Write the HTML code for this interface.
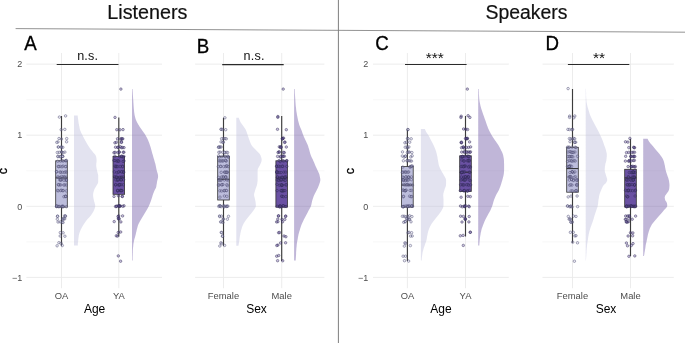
<!DOCTYPE html>
<html lang="en">
<head>
<meta charset="utf-8">
<title>Listeners and Speakers criterion c</title>
<style>
html,body{margin:0;padding:0;background:#fff;}
body{width:685px;height:343px;overflow:hidden;}
svg{display:block;font-family:"Liberation Sans",Arial,Helvetica,sans-serif;}
svg{will-change:transform;}
</style>
</head>
<body>
<svg width="685" height="343" viewBox="0 0 685 343">
<rect width="685" height="343" fill="#ffffff"/>
<line x1="15.6" y1="28.6" x2="685" y2="32.2" stroke="#7f7f7f" stroke-width="0.85"/>
<line x1="338.4" y1="0" x2="338.4" y2="343" stroke="#7f7f7f" stroke-width="1"/>
<text x="147.4" y="18.5" font-size="19.75" text-anchor="middle" fill="#111" stroke="#111" stroke-width="0.2">Listeners</text>
<text x="526.5" y="19.3" font-size="19.4" text-anchor="middle" fill="#111" stroke="#111" stroke-width="0.2">Speakers</text>
<g>
<line x1="26.4" y1="99.7" x2="162" y2="99.7" stroke="#f1f1f1" stroke-width="0.6"/>
<line x1="26.4" y1="170.8" x2="162" y2="170.8" stroke="#f1f1f1" stroke-width="0.6"/>
<line x1="26.4" y1="241.9" x2="162" y2="241.9" stroke="#f1f1f1" stroke-width="0.6"/>
<line x1="26.4" y1="64.1" x2="162" y2="64.1" stroke="#e8e8e8" stroke-width="0.85"/>
<line x1="26.4" y1="135.2" x2="162" y2="135.2" stroke="#e8e8e8" stroke-width="0.85"/>
<line x1="26.4" y1="206.3" x2="162" y2="206.3" stroke="#e8e8e8" stroke-width="0.85"/>
<line x1="26.4" y1="277.4" x2="162" y2="277.4" stroke="#e8e8e8" stroke-width="0.85"/>
<line x1="61.5" y1="53" x2="61.5" y2="288.2" stroke="#e8e8e8" stroke-width="0.85"/>
<line x1="118.8" y1="53" x2="118.8" y2="288.2" stroke="#e8e8e8" stroke-width="0.85"/>
<text x="22.3" y="67.3" font-size="9" text-anchor="end" fill="#4d4d4d">2</text>
<text x="22.3" y="138.4" font-size="9" text-anchor="end" fill="#4d4d4d">1</text>
<text x="22.3" y="209.5" font-size="9" text-anchor="end" fill="#4d4d4d">0</text>
<text x="22.3" y="280.6" font-size="9" text-anchor="end" fill="#4d4d4d">−1</text>
<text transform="translate(3.9 171) rotate(-90)" font-size="12.5" text-anchor="middle" fill="#000" stroke="#000" stroke-width="0.3" y="3.3">c</text>
<path d="M74 115.5L77.7 115.5L77.8 117L78 118.5L78.2 120L78.4 121.5L78.6 123L78.9 124.5L79.2 126L79.5 127.5L79.8 129L80.3 130.5L80.9 132L81.6 133.5L82.4 135L83.1 136.5L83.9 138L84.7 139.5L85.5 141L86.4 142.5L87.2 144L88.1 145.5L89.1 147L90.1 148.5L91.3 150L92.5 151.5L93.7 153L95.1 154.5L95.9 156L96.3 157.5L96.5 159L96.6 160.5L96.5 162L96.3 163.5L96.2 165L96.3 166.5L96.5 168L96.8 169.5L97.1 171L97.5 172.5L97.9 174L98.2 175.5L98.2 177L98.2 178.5L98.2 180L98.2 181.5L98 183L97.2 184.5L96.3 186L95.4 187.5L94.5 189L94 190.5L93.5 192L93.2 193.5L93.1 195L93.2 196.5L93.4 198L93.7 199.5L94 201L94.5 202.5L94.9 204L95.2 205.5L95.1 207L94.7 208.5L94.1 210L93.4 211.5L92.5 213L91.5 214.5L90.4 216L89.1 217.5L87.6 219L86.4 220.5L85.3 222L84.3 223.5L83.3 225L82.4 226.5L81.6 228L80.8 229.5L80.2 231L79.6 232.5L79.1 234L78.8 235.5L78.6 237L78.4 238.5L78.2 240L78.1 241.5L77.9 243L77.8 244.5L77.8 245.6L74 245.6 Z" fill="#BCBDDC" fill-opacity="0.42"/>
<line x1="61.5" y1="116" x2="61.5" y2="245.8" stroke="#3c3c3c" stroke-width="1.15"/>
<rect x="55.7" y="160.8" width="11.6" height="46.3" fill="#BCBDDC" stroke="#333" stroke-width="0.8"/>
<line x1="55.7" y1="177.9" x2="67.3" y2="177.9" stroke="#2b2b2b" stroke-width="1"/>
<g fill="#BCBDDC" fill-opacity="0.25" stroke="#45426b" stroke-width="0.45"><circle cx="65.6" cy="115.9" r="1.25"/><circle cx="59.4" cy="117.1" r="1.25"/><circle cx="64.8" cy="129.4" r="1.25"/><circle cx="61.2" cy="129.7" r="1.25"/><circle cx="59" cy="138.5" r="1.25"/><circle cx="61.5" cy="139" r="1.25"/><circle cx="66.7" cy="138.6" r="1.25"/><circle cx="66.6" cy="141.8" r="1.25"/><circle cx="58" cy="141.9" r="1.25"/><circle cx="56.8" cy="142.4" r="1.25"/><circle cx="61.1" cy="147.1" r="1.25"/><circle cx="62.8" cy="147.3" r="1.25"/><circle cx="61.5" cy="147.1" r="1.25"/><circle cx="58.3" cy="147" r="1.25"/><circle cx="58.4" cy="147" r="1.25"/><circle cx="64.9" cy="152.1" r="1.25"/><circle cx="59.1" cy="152.3" r="1.25"/><circle cx="61.6" cy="151.9" r="1.25"/><circle cx="63" cy="152.7" r="1.25"/><circle cx="57.3" cy="152.5" r="1.25"/><circle cx="61.6" cy="152.1" r="1.25"/><circle cx="62.5" cy="156.2" r="1.25"/><circle cx="60.3" cy="156.7" r="1.25"/><circle cx="57.9" cy="156.7" r="1.25"/><circle cx="60.2" cy="156.7" r="1.25"/><circle cx="62.4" cy="156.3" r="1.25"/><circle cx="62.9" cy="156.4" r="1.25"/><circle cx="57.9" cy="156.2" r="1.25"/><circle cx="60.5" cy="161.1" r="1.25"/><circle cx="66.4" cy="160.4" r="1.25"/><circle cx="63.3" cy="161" r="1.25"/><circle cx="65.4" cy="160.7" r="1.25"/><circle cx="57.7" cy="161.2" r="1.25"/><circle cx="66.1" cy="160.7" r="1.25"/><circle cx="62.2" cy="160.7" r="1.25"/><circle cx="66" cy="166.4" r="1.25"/><circle cx="58.2" cy="166.4" r="1.25"/><circle cx="63" cy="166.1" r="1.25"/><circle cx="60.2" cy="166.4" r="1.25"/><circle cx="58.8" cy="166.7" r="1.25"/><circle cx="65.4" cy="166.7" r="1.25"/><circle cx="62" cy="166.8" r="1.25"/><circle cx="56.6" cy="171.8" r="1.25"/><circle cx="56.6" cy="171.7" r="1.25"/><circle cx="66.4" cy="172.1" r="1.25"/><circle cx="60.8" cy="172.2" r="1.25"/><circle cx="65.4" cy="171.9" r="1.25"/><circle cx="62.4" cy="172.2" r="1.25"/><circle cx="60" cy="172.1" r="1.25"/><circle cx="64.3" cy="172.4" r="1.25"/><circle cx="66" cy="177.1" r="1.25"/><circle cx="64.1" cy="176.8" r="1.25"/><circle cx="57.7" cy="176.9" r="1.25"/><circle cx="64.8" cy="177.2" r="1.25"/><circle cx="62.8" cy="177" r="1.25"/><circle cx="61.6" cy="176.5" r="1.25"/><circle cx="58.7" cy="177.3" r="1.25"/><circle cx="60.1" cy="177.4" r="1.25"/><circle cx="66.2" cy="179.7" r="1.25"/><circle cx="59.8" cy="180" r="1.25"/><circle cx="66.2" cy="180.4" r="1.25"/><circle cx="66.5" cy="180" r="1.25"/><circle cx="61.7" cy="179.9" r="1.25"/><circle cx="64" cy="180.3" r="1.25"/><circle cx="60.7" cy="180" r="1.25"/><circle cx="60.6" cy="179.8" r="1.25"/><circle cx="60.8" cy="184.9" r="1.25"/><circle cx="66.2" cy="185" r="1.25"/><circle cx="64.7" cy="184.9" r="1.25"/><circle cx="63.8" cy="185" r="1.25"/><circle cx="59.8" cy="184.9" r="1.25"/><circle cx="58.4" cy="184.7" r="1.25"/><circle cx="58.5" cy="184.8" r="1.25"/><circle cx="57.5" cy="190.4" r="1.25"/><circle cx="61.3" cy="190.2" r="1.25"/><circle cx="63.2" cy="190.5" r="1.25"/><circle cx="66.3" cy="190.9" r="1.25"/><circle cx="62.8" cy="190.7" r="1.25"/><circle cx="58.2" cy="190.8" r="1.25"/><circle cx="60.6" cy="190.6" r="1.25"/><circle cx="63.9" cy="196.7" r="1.25"/><circle cx="65.8" cy="196.4" r="1.25"/><circle cx="65.4" cy="196.2" r="1.25"/><circle cx="65.8" cy="196.5" r="1.25"/><circle cx="56.5" cy="206.3" r="1.25"/><circle cx="58.9" cy="206.5" r="1.25"/><circle cx="62.2" cy="206.1" r="1.25"/><circle cx="62.4" cy="206.6" r="1.25"/><circle cx="63.3" cy="206.3" r="1.25"/><circle cx="59.5" cy="206.5" r="1.25"/><circle cx="61.9" cy="206.6" r="1.25"/><circle cx="63.1" cy="206.8" r="1.25"/><circle cx="58.3" cy="206.6" r="1.25"/><circle cx="56.7" cy="206.6" r="1.25"/><circle cx="66.3" cy="206.7" r="1.25"/><circle cx="56.8" cy="205.8" r="1.25"/><circle cx="57.5" cy="216.3" r="1.25"/><circle cx="64.6" cy="215.8" r="1.25"/><circle cx="65.3" cy="216.3" r="1.25"/><circle cx="57.6" cy="216.2" r="1.25"/><circle cx="65.5" cy="216" r="1.25"/><circle cx="62.9" cy="218.8" r="1.25"/><circle cx="57.3" cy="219.2" r="1.25"/><circle cx="62.9" cy="219.2" r="1.25"/><circle cx="64.7" cy="218.9" r="1.25"/><circle cx="63.8" cy="218.8" r="1.25"/><circle cx="58" cy="222" r="1.25"/><circle cx="63.1" cy="222.5" r="1.25"/><circle cx="62.2" cy="222.2" r="1.25"/><circle cx="60.2" cy="221.9" r="1.25"/><circle cx="63.1" cy="232.8" r="1.25"/><circle cx="60.3" cy="232.6" r="1.25"/><circle cx="64.9" cy="236.2" r="1.25"/><circle cx="60.2" cy="236" r="1.25"/><circle cx="58.9" cy="242.7" r="1.25"/><circle cx="61.1" cy="243.3" r="1.25"/><circle cx="62.3" cy="245.5" r="1.25"/><circle cx="57.1" cy="245.8" r="1.25"/></g>
<path d="M132 89L132.5 89L132.6 90.5L132.7 92L132.8 93.5L132.9 95L133 96.5L133.1 98L133.2 99.5L133.3 101L133.4 102.5L133.5 104L133.6 105.5L133.7 107L133.8 108.5L134 110L134.1 111.5L134.3 113L134.5 114.5L134.8 116L135.2 117.5L135.6 119L136.2 120.5L136.9 122L137.7 123.5L138.6 125L139.5 126.5L140.5 128L141.6 129.5L142.6 131L143.7 132.5L144.8 134L145.7 135.5L146.5 137L147.3 138.5L148 140L148.6 141.5L149.2 143L149.7 144.5L150.2 146L150.7 147.5L151.1 149L151.5 150.5L151.9 152L152.3 153.5L152.8 155L153.2 156.5L153.6 158L154.1 159.5L154.5 161L154.9 162.5L155.4 164L155.7 165.5L156 167L156.3 168.5L156.6 170L157 171.5L157.5 173L157.9 174.5L158.1 176L158 177.5L157.7 179L157.3 180.5L157 182L156.8 183.5L156.5 185L156.3 186.5L155.9 188L155 189.5L154.3 191L153.7 192.5L153.1 194L152.6 195.5L152.2 197L151.7 198.5L151.2 200L150.7 201.5L150.1 203L149.5 204.5L148.9 206L148.1 207.5L147.3 209L146.4 210.5L145.5 212L144.6 213.5L143.7 215L142.8 216.5L141.9 218L141 219.5L140.1 221L139.3 222.5L138.5 224L137.9 225.5L137.5 227L137.1 228.5L136.7 230L136.4 231.5L136 233L135.7 234.5L135.3 236L134.9 237.5L134.4 239L134.1 240.5L133.8 242L133.5 243.5L133.3 245L133.2 246.5L133 248L132.9 249.5L132.8 251L132.8 252.5L132.7 254L132.7 255.5L132.6 257L132.6 258.5L132.6 260L132.6 260.6L132 260.6 Z" fill="#6A51A3" fill-opacity="0.42"/>
<line x1="118.8" y1="117.4" x2="118.8" y2="236.5" stroke="#3c3c3c" stroke-width="1.15"/>
<rect x="113" y="156.5" width="11.6" height="37.8" fill="#6A51A3" stroke="#333" stroke-width="0.8"/>
<line x1="113" y1="177.1" x2="124.6" y2="177.1" stroke="#2b2b2b" stroke-width="1"/>
<g fill="#6A51A3" fill-opacity="0.35" stroke="#2c2950" stroke-width="0.45"><circle cx="115" cy="117.4" r="1.25"/><circle cx="123" cy="129.6" r="1.25"/><circle cx="116.8" cy="129.7" r="1.25"/><circle cx="120" cy="129.8" r="1.25"/><circle cx="122.8" cy="138.8" r="1.25"/><circle cx="121" cy="139.3" r="1.25"/><circle cx="121.2" cy="138.6" r="1.25"/><circle cx="122.2" cy="138.9" r="1.25"/><circle cx="117.5" cy="138.8" r="1.25"/><circle cx="121.5" cy="142" r="1.25"/><circle cx="116.4" cy="142.3" r="1.25"/><circle cx="121.4" cy="142.4" r="1.25"/><circle cx="114.9" cy="142.8" r="1.25"/><circle cx="120.3" cy="146.7" r="1.25"/><circle cx="124" cy="147.6" r="1.25"/><circle cx="122.4" cy="147.5" r="1.25"/><circle cx="117.7" cy="147.4" r="1.25"/><circle cx="115.5" cy="147.2" r="1.25"/><circle cx="121.5" cy="147.7" r="1.25"/><circle cx="118.2" cy="147.3" r="1.25"/><circle cx="113.9" cy="152.7" r="1.25"/><circle cx="119.2" cy="152.3" r="1.25"/><circle cx="119.3" cy="151.9" r="1.25"/><circle cx="117.6" cy="152.5" r="1.25"/><circle cx="123.2" cy="152.2" r="1.25"/><circle cx="115" cy="152.3" r="1.25"/><circle cx="123.9" cy="152.2" r="1.25"/><circle cx="122.2" cy="156.3" r="1.25"/><circle cx="114.9" cy="156.1" r="1.25"/><circle cx="123.9" cy="156.4" r="1.25"/><circle cx="119.6" cy="156.6" r="1.25"/><circle cx="121.4" cy="156.2" r="1.25"/><circle cx="123.1" cy="157.1" r="1.25"/><circle cx="121.6" cy="156.5" r="1.25"/><circle cx="113.9" cy="160.4" r="1.25"/><circle cx="116.8" cy="161.2" r="1.25"/><circle cx="118.3" cy="161.1" r="1.25"/><circle cx="124" cy="160.9" r="1.25"/><circle cx="123.1" cy="161.4" r="1.25"/><circle cx="117.7" cy="160.6" r="1.25"/><circle cx="114.9" cy="160.6" r="1.25"/><circle cx="118.8" cy="161.2" r="1.25"/><circle cx="122.5" cy="166.2" r="1.25"/><circle cx="115.5" cy="166.6" r="1.25"/><circle cx="116.4" cy="166.5" r="1.25"/><circle cx="116.5" cy="166.4" r="1.25"/><circle cx="120.1" cy="166.5" r="1.25"/><circle cx="117.7" cy="166.6" r="1.25"/><circle cx="122.7" cy="166.7" r="1.25"/><circle cx="115" cy="166" r="1.25"/><circle cx="123.4" cy="171.7" r="1.25"/><circle cx="123.7" cy="172.4" r="1.25"/><circle cx="118.9" cy="171.7" r="1.25"/><circle cx="123.1" cy="172" r="1.25"/><circle cx="116.9" cy="172.8" r="1.25"/><circle cx="114.3" cy="171.9" r="1.25"/><circle cx="118.4" cy="172.2" r="1.25"/><circle cx="121.5" cy="171.8" r="1.25"/><circle cx="121.5" cy="171.8" r="1.25"/><circle cx="120.7" cy="177.5" r="1.25"/><circle cx="116.7" cy="177.3" r="1.25"/><circle cx="121.5" cy="177" r="1.25"/><circle cx="123.2" cy="176.8" r="1.25"/><circle cx="117" cy="177.4" r="1.25"/><circle cx="115.2" cy="177.2" r="1.25"/><circle cx="114.6" cy="176.6" r="1.25"/><circle cx="119.6" cy="177.2" r="1.25"/><circle cx="116.5" cy="177" r="1.25"/><circle cx="120.3" cy="179.6" r="1.25"/><circle cx="118.1" cy="180.2" r="1.25"/><circle cx="120.8" cy="179.4" r="1.25"/><circle cx="117.1" cy="180.2" r="1.25"/><circle cx="115.8" cy="179.9" r="1.25"/><circle cx="121.6" cy="179.7" r="1.25"/><circle cx="121.2" cy="179.9" r="1.25"/><circle cx="123.6" cy="179.8" r="1.25"/><circle cx="117.9" cy="179.5" r="1.25"/><circle cx="121.2" cy="184.6" r="1.25"/><circle cx="119.5" cy="185.1" r="1.25"/><circle cx="123.3" cy="184.8" r="1.25"/><circle cx="118.3" cy="185" r="1.25"/><circle cx="119.3" cy="184.7" r="1.25"/><circle cx="119.8" cy="184.7" r="1.25"/><circle cx="115.6" cy="185" r="1.25"/><circle cx="115.7" cy="184.5" r="1.25"/><circle cx="121" cy="190.4" r="1.25"/><circle cx="122" cy="190.5" r="1.25"/><circle cx="120.1" cy="190.4" r="1.25"/><circle cx="120.7" cy="190.6" r="1.25"/><circle cx="117.8" cy="190.8" r="1.25"/><circle cx="117.7" cy="190.8" r="1.25"/><circle cx="117.6" cy="190.3" r="1.25"/><circle cx="121.5" cy="190.7" r="1.25"/><circle cx="122.2" cy="196.3" r="1.25"/><circle cx="122.4" cy="196.5" r="1.25"/><circle cx="118.3" cy="195.8" r="1.25"/><circle cx="114" cy="196.4" r="1.25"/><circle cx="119.6" cy="206" r="1.25"/><circle cx="120.5" cy="206" r="1.25"/><circle cx="119.7" cy="206.1" r="1.25"/><circle cx="115.5" cy="206.5" r="1.25"/><circle cx="116.6" cy="206.4" r="1.25"/><circle cx="124" cy="205.8" r="1.25"/><circle cx="118.3" cy="205.7" r="1.25"/><circle cx="119.6" cy="206.2" r="1.25"/><circle cx="122.8" cy="206.3" r="1.25"/><circle cx="116.4" cy="206.3" r="1.25"/><circle cx="118.7" cy="206" r="1.25"/><circle cx="122.6" cy="215.9" r="1.25"/><circle cx="118.7" cy="215.9" r="1.25"/><circle cx="118" cy="216.5" r="1.25"/><circle cx="118.5" cy="219" r="1.25"/><circle cx="118.4" cy="218.3" r="1.25"/><circle cx="119.3" cy="218.8" r="1.25"/><circle cx="120.9" cy="221.9" r="1.25"/><circle cx="114.2" cy="221.6" r="1.25"/><circle cx="118.2" cy="232.5" r="1.25"/><circle cx="120.7" cy="232" r="1.25"/><circle cx="117.5" cy="236.1" r="1.25"/><circle cx="116.3" cy="235.8" r="1.25"/><circle cx="120.9" cy="89.1" r="1.25"/><circle cx="118.3" cy="255.9" r="1.25"/><circle cx="120.6" cy="261.2" r="1.25"/></g>
<line x1="56.7" y1="64.5" x2="118.5" y2="64.5" stroke="#2a2a2a" stroke-width="1.1"/>
<text x="87.7" y="59.8" font-size="12.6" letter-spacing="0.2" text-anchor="middle" fill="#111">n.s.</text>
<text x="61.5" y="299.3" font-size="9.4" text-anchor="middle" fill="#4d4d4d">OA</text>
<text x="118.8" y="299.3" font-size="9.4" text-anchor="middle" fill="#4d4d4d">YA</text>
<text x="94.6" y="312.6" font-size="12" text-anchor="middle" fill="#000">Age</text>
<text transform="translate(24.2 49.6) scale(0.955 1)" font-size="19.6" fill="#000" stroke="#000" stroke-width="0.3">A</text>
</g>
<g>
<line x1="195.1" y1="99.7" x2="324.4" y2="99.7" stroke="#f1f1f1" stroke-width="0.6"/>
<line x1="195.1" y1="170.8" x2="324.4" y2="170.8" stroke="#f1f1f1" stroke-width="0.6"/>
<line x1="195.1" y1="241.9" x2="324.4" y2="241.9" stroke="#f1f1f1" stroke-width="0.6"/>
<line x1="195.1" y1="64.1" x2="324.4" y2="64.1" stroke="#e8e8e8" stroke-width="0.85"/>
<line x1="195.1" y1="135.2" x2="324.4" y2="135.2" stroke="#e8e8e8" stroke-width="0.85"/>
<line x1="195.1" y1="206.3" x2="324.4" y2="206.3" stroke="#e8e8e8" stroke-width="0.85"/>
<line x1="195.1" y1="277.4" x2="324.4" y2="277.4" stroke="#e8e8e8" stroke-width="0.85"/>
<line x1="223.5" y1="53" x2="223.5" y2="288.2" stroke="#e8e8e8" stroke-width="0.85"/>
<line x1="281.7" y1="53" x2="281.7" y2="288.2" stroke="#e8e8e8" stroke-width="0.85"/>
<path d="M236.3 117.7L238.8 117.7L239.3 119.2L239.9 120.7L240.6 122.2L241.6 123.7L242.7 125.2L243.8 126.7L244.8 128.2L245.8 129.7L246.4 131.2L246.9 132.7L247.4 134.2L247.9 135.7L248.4 137.2L248.9 138.7L249.5 140.2L250 141.7L250.6 143.2L251.3 144.7L252.3 146.2L253.7 147.7L255.2 149.2L256.6 150.7L258.1 152.2L259.6 153.7L260.5 155.2L261 156.7L261.5 158.2L261.7 159.7L261.5 161.2L261 162.7L260.3 164.2L259.6 165.7L258.7 167.2L257.9 168.7L257.6 170.2L257.6 171.7L257.6 173.2L257.6 174.7L257.6 176.2L257.6 177.7L257.6 179.2L257.6 180.7L257.4 182.2L257.2 183.7L256.9 185.2L256.4 186.7L255.8 188.2L255.3 189.7L254.9 191.2L254.4 192.7L254.1 194.2L254.1 195.7L254.5 197.2L254.9 198.7L255.2 200.2L255.5 201.7L255.7 203.2L255.8 204.7L255.9 206.2L255.3 207.7L254.3 209.2L253.3 210.7L252.2 212.2L251 213.7L249.7 215.2L248.5 216.7L247.3 218.2L246.1 219.7L245.1 221.2L244.1 222.7L243.3 224.2L242.6 225.7L242 227.2L241.6 228.7L241.1 230.2L240.8 231.7L240.4 233.2L240.2 234.7L239.9 236.2L239.7 237.7L239.5 239.2L239.3 240.7L239 242.2L238.8 243.7L238.5 245.2L238.4 245.8L236.3 245.8 Z" fill="#BCBDDC" fill-opacity="0.42"/>
<line x1="223.5" y1="117.8" x2="223.5" y2="246.1" stroke="#3c3c3c" stroke-width="1.15"/>
<rect x="217.7" y="156.5" width="11.6" height="43.5" fill="#BCBDDC" stroke="#333" stroke-width="0.8"/>
<line x1="217.7" y1="179.3" x2="229.3" y2="179.3" stroke="#2b2b2b" stroke-width="1"/>
<g fill="#BCBDDC" fill-opacity="0.25" stroke="#45426b" stroke-width="0.45"><circle cx="224.9" cy="117.8" r="1.25"/><circle cx="221.3" cy="129.3" r="1.25"/><circle cx="221" cy="129.3" r="1.25"/><circle cx="222.7" cy="129.5" r="1.25"/><circle cx="225.7" cy="129.7" r="1.25"/><circle cx="221.6" cy="138.7" r="1.25"/><circle cx="223.4" cy="138.5" r="1.25"/><circle cx="225.1" cy="138.6" r="1.25"/><circle cx="226.3" cy="138.8" r="1.25"/><circle cx="221" cy="141.9" r="1.25"/><circle cx="223.4" cy="142.2" r="1.25"/><circle cx="222.9" cy="142.3" r="1.25"/><circle cx="219.7" cy="147.2" r="1.25"/><circle cx="221.2" cy="147" r="1.25"/><circle cx="218.6" cy="147.1" r="1.25"/><circle cx="220" cy="146.9" r="1.25"/><circle cx="218.5" cy="147.3" r="1.25"/><circle cx="226.5" cy="152.4" r="1.25"/><circle cx="224.7" cy="152.4" r="1.25"/><circle cx="222.6" cy="152.3" r="1.25"/><circle cx="220" cy="152.1" r="1.25"/><circle cx="227.6" cy="152.5" r="1.25"/><circle cx="218.8" cy="152.3" r="1.25"/><circle cx="224.5" cy="152.4" r="1.25"/><circle cx="228.2" cy="156.6" r="1.25"/><circle cx="219.5" cy="156.8" r="1.25"/><circle cx="218.6" cy="155.8" r="1.25"/><circle cx="227.8" cy="156.1" r="1.25"/><circle cx="224.7" cy="156.3" r="1.25"/><circle cx="225.4" cy="156.4" r="1.25"/><circle cx="228.2" cy="157.1" r="1.25"/><circle cx="221.8" cy="156.5" r="1.25"/><circle cx="225.8" cy="160.6" r="1.25"/><circle cx="222.7" cy="160.9" r="1.25"/><circle cx="226.2" cy="161.1" r="1.25"/><circle cx="219.1" cy="160.8" r="1.25"/><circle cx="220.2" cy="161" r="1.25"/><circle cx="223" cy="160.9" r="1.25"/><circle cx="221.2" cy="160.9" r="1.25"/><circle cx="225.4" cy="160.3" r="1.25"/><circle cx="218.3" cy="166.6" r="1.25"/><circle cx="220.9" cy="166.4" r="1.25"/><circle cx="226.6" cy="166.2" r="1.25"/><circle cx="220.5" cy="166.4" r="1.25"/><circle cx="228.1" cy="166.6" r="1.25"/><circle cx="225.6" cy="166.5" r="1.25"/><circle cx="226.8" cy="165.7" r="1.25"/><circle cx="223.7" cy="166.6" r="1.25"/><circle cx="227.1" cy="172.5" r="1.25"/><circle cx="221.2" cy="172.3" r="1.25"/><circle cx="224.6" cy="172" r="1.25"/><circle cx="224.8" cy="172.4" r="1.25"/><circle cx="227.3" cy="172.1" r="1.25"/><circle cx="226.2" cy="172.2" r="1.25"/><circle cx="226" cy="172.2" r="1.25"/><circle cx="225.6" cy="177.1" r="1.25"/><circle cx="218.6" cy="177.4" r="1.25"/><circle cx="225.7" cy="176.7" r="1.25"/><circle cx="225.9" cy="177.3" r="1.25"/><circle cx="223.2" cy="176.7" r="1.25"/><circle cx="223" cy="177.3" r="1.25"/><circle cx="221.5" cy="177" r="1.25"/><circle cx="221.1" cy="180.3" r="1.25"/><circle cx="219" cy="179.7" r="1.25"/><circle cx="220.5" cy="179.8" r="1.25"/><circle cx="227.9" cy="180.1" r="1.25"/><circle cx="224.3" cy="180" r="1.25"/><circle cx="219.1" cy="180.3" r="1.25"/><circle cx="226.7" cy="179.9" r="1.25"/><circle cx="227.3" cy="185.6" r="1.25"/><circle cx="218.4" cy="185" r="1.25"/><circle cx="222.1" cy="184.9" r="1.25"/><circle cx="219.1" cy="185" r="1.25"/><circle cx="226.8" cy="184.7" r="1.25"/><circle cx="223" cy="184.5" r="1.25"/><circle cx="221.6" cy="184.7" r="1.25"/><circle cx="219.9" cy="190.8" r="1.25"/><circle cx="224.2" cy="190.8" r="1.25"/><circle cx="224.3" cy="190.5" r="1.25"/><circle cx="221.7" cy="191" r="1.25"/><circle cx="226.1" cy="190.4" r="1.25"/><circle cx="226.6" cy="190.6" r="1.25"/><circle cx="224.4" cy="196" r="1.25"/><circle cx="220" cy="197.1" r="1.25"/><circle cx="226.8" cy="196.3" r="1.25"/><circle cx="225.9" cy="206.2" r="1.25"/><circle cx="221.1" cy="206.7" r="1.25"/><circle cx="223.9" cy="206.5" r="1.25"/><circle cx="224.1" cy="206.9" r="1.25"/><circle cx="226.8" cy="206.5" r="1.25"/><circle cx="219.4" cy="205.7" r="1.25"/><circle cx="227.1" cy="206.2" r="1.25"/><circle cx="218.8" cy="206.5" r="1.25"/><circle cx="220.3" cy="205.8" r="1.25"/><circle cx="227.9" cy="206.1" r="1.25"/><circle cx="220.1" cy="206.1" r="1.25"/><circle cx="223.7" cy="205.6" r="1.25"/><circle cx="219.8" cy="216.6" r="1.25"/><circle cx="228.5" cy="216.3" r="1.25"/><circle cx="219.5" cy="216" r="1.25"/><circle cx="221.5" cy="216.1" r="1.25"/><circle cx="227.4" cy="219.2" r="1.25"/><circle cx="223" cy="219.2" r="1.25"/><circle cx="223.6" cy="219" r="1.25"/><circle cx="221.3" cy="221.8" r="1.25"/><circle cx="220.6" cy="221.9" r="1.25"/><circle cx="223.1" cy="222.5" r="1.25"/><circle cx="221.2" cy="232.4" r="1.25"/><circle cx="221.7" cy="232.6" r="1.25"/><circle cx="222.5" cy="236.2" r="1.25"/><circle cx="222.5" cy="236.1" r="1.25"/><circle cx="221.5" cy="243.6" r="1.25"/><circle cx="220.9" cy="242.8" r="1.25"/><circle cx="224.6" cy="245.4" r="1.25"/><circle cx="219.8" cy="246" r="1.25"/></g>
<path d="M294.1 89L294.7 89L294.8 90.5L294.8 92L294.9 93.5L295 95L295.1 96.5L295.2 98L295.3 99.5L295.4 101L295.5 102.5L295.6 104L295.7 105.5L295.9 107L296.1 108.5L296.2 110L296.4 111.5L296.7 113L296.9 114.5L297.2 116L297.5 117.5L297.8 119L298.1 120.5L298.5 122L298.9 123.5L299.3 125L299.9 126.5L300.5 128L301.2 129.5L301.8 131L302.3 132.5L302.8 134L303.4 135.5L304 137L304.7 138.5L305.4 140L306.1 141.5L306.8 143L307.5 144.5L308.1 146L308.5 147.5L309 149L309.4 150.5L309.8 152L310.2 153.5L310.7 155L311.3 156.5L312 158L312.8 159.5L313.4 161L314.1 162.5L314.7 164L315.3 165.5L316 167L316.7 168.5L317.4 170L318.1 171.5L318.8 173L319.4 174.5L319.7 176L320 177.5L320.3 179L320.3 180.5L320 182L319.5 183.5L319 185L318.4 186.5L317.8 188L317 189.5L316.3 191L315.5 192.5L314.7 194L314 195.5L313.4 197L312.9 198.5L312.4 200L312 201.5L311.7 203L311.4 204.5L311 206L310.3 207.5L309.5 209L308.6 210.5L307.9 212L307.1 213.5L306.3 215L305.5 216.5L304.7 218L303.9 219.5L303.2 221L302.5 222.5L301.8 224L301.2 225.5L300.7 227L300.2 228.5L299.8 230L299.3 231.5L298.9 233L298.5 234.5L298.2 236L297.9 237.5L297.7 239L297.4 240.5L297.1 242L296.9 243.5L296.7 245L296.6 246.5L296.4 248L296.3 249.5L296.2 251L296.1 252.5L296.1 254L296 255.5L295.9 257L295.8 258.5L295.7 260L295.7 260.6L294.1 260.6 Z" fill="#6A51A3" fill-opacity="0.42"/>
<line x1="281.7" y1="116" x2="281.7" y2="261" stroke="#3c3c3c" stroke-width="1.15"/>
<rect x="275.9" y="160.8" width="11.6" height="46.3" fill="#6A51A3" stroke="#333" stroke-width="0.8"/>
<line x1="275.9" y1="177.9" x2="287.5" y2="177.9" stroke="#2b2b2b" stroke-width="1"/>
<g fill="#6A51A3" fill-opacity="0.35" stroke="#2c2950" stroke-width="0.45"><circle cx="277.9" cy="116.5" r="1.25"/><circle cx="277.8" cy="117.3" r="1.25"/><circle cx="277.5" cy="129.3" r="1.25"/><circle cx="286.3" cy="129.7" r="1.25"/><circle cx="282.9" cy="138.3" r="1.25"/><circle cx="282.4" cy="138.7" r="1.25"/><circle cx="282.4" cy="138.9" r="1.25"/><circle cx="283.6" cy="138.1" r="1.25"/><circle cx="285" cy="142.1" r="1.25"/><circle cx="284.6" cy="142.4" r="1.25"/><circle cx="279.3" cy="146.8" r="1.25"/><circle cx="286.3" cy="147" r="1.25"/><circle cx="280.4" cy="147.4" r="1.25"/><circle cx="280.7" cy="146.7" r="1.25"/><circle cx="281.2" cy="147.3" r="1.25"/><circle cx="278" cy="152.5" r="1.25"/><circle cx="284.3" cy="152.6" r="1.25"/><circle cx="283.5" cy="152.4" r="1.25"/><circle cx="278.9" cy="151.8" r="1.25"/><circle cx="279.4" cy="152.2" r="1.25"/><circle cx="280.4" cy="157" r="1.25"/><circle cx="283.1" cy="156.2" r="1.25"/><circle cx="277.6" cy="156.4" r="1.25"/><circle cx="284.4" cy="156.3" r="1.25"/><circle cx="283.1" cy="156.3" r="1.25"/><circle cx="280.7" cy="156.3" r="1.25"/><circle cx="280.1" cy="161.6" r="1.25"/><circle cx="282.6" cy="160.7" r="1.25"/><circle cx="283.8" cy="161" r="1.25"/><circle cx="286.6" cy="160.7" r="1.25"/><circle cx="279.1" cy="160.5" r="1.25"/><circle cx="286.8" cy="160.7" r="1.25"/><circle cx="286.8" cy="166.4" r="1.25"/><circle cx="276.9" cy="166.4" r="1.25"/><circle cx="282.8" cy="166.3" r="1.25"/><circle cx="280" cy="166.7" r="1.25"/><circle cx="276.5" cy="166.2" r="1.25"/><circle cx="282.2" cy="166.3" r="1.25"/><circle cx="278.6" cy="166.2" r="1.25"/><circle cx="276.8" cy="172.5" r="1.25"/><circle cx="281" cy="172.5" r="1.25"/><circle cx="283.9" cy="172.1" r="1.25"/><circle cx="279" cy="172.4" r="1.25"/><circle cx="285.8" cy="172.1" r="1.25"/><circle cx="277.5" cy="172.5" r="1.25"/><circle cx="276.8" cy="171.6" r="1.25"/><circle cx="276.8" cy="172.2" r="1.25"/><circle cx="277.5" cy="177.2" r="1.25"/><circle cx="285.9" cy="176.8" r="1.25"/><circle cx="280" cy="177.8" r="1.25"/><circle cx="284.8" cy="177.2" r="1.25"/><circle cx="282.2" cy="177.7" r="1.25"/><circle cx="277.5" cy="177.1" r="1.25"/><circle cx="282.6" cy="177.4" r="1.25"/><circle cx="285" cy="177.2" r="1.25"/><circle cx="281.9" cy="177.2" r="1.25"/><circle cx="277.2" cy="180" r="1.25"/><circle cx="283.7" cy="179.7" r="1.25"/><circle cx="284.7" cy="180.2" r="1.25"/><circle cx="278.3" cy="180" r="1.25"/><circle cx="285.4" cy="180.3" r="1.25"/><circle cx="279" cy="180.6" r="1.25"/><circle cx="280.7" cy="180.2" r="1.25"/><circle cx="281.8" cy="180" r="1.25"/><circle cx="281.1" cy="179.6" r="1.25"/><circle cx="281.7" cy="185.4" r="1.25"/><circle cx="285.8" cy="184.8" r="1.25"/><circle cx="279.4" cy="185.2" r="1.25"/><circle cx="281.7" cy="185.1" r="1.25"/><circle cx="277" cy="184.3" r="1.25"/><circle cx="282.5" cy="185.2" r="1.25"/><circle cx="281.8" cy="185" r="1.25"/><circle cx="281" cy="184.8" r="1.25"/><circle cx="286.4" cy="184.9" r="1.25"/><circle cx="283" cy="191" r="1.25"/><circle cx="282.5" cy="190.3" r="1.25"/><circle cx="285" cy="190.6" r="1.25"/><circle cx="283.8" cy="190.6" r="1.25"/><circle cx="281.4" cy="191" r="1.25"/><circle cx="282.1" cy="190.8" r="1.25"/><circle cx="281" cy="190.5" r="1.25"/><circle cx="277.1" cy="190.6" r="1.25"/><circle cx="282.1" cy="196.4" r="1.25"/><circle cx="281.7" cy="196.2" r="1.25"/><circle cx="283.3" cy="196.7" r="1.25"/><circle cx="285.9" cy="196.6" r="1.25"/><circle cx="281.3" cy="207" r="1.25"/><circle cx="279.5" cy="206.5" r="1.25"/><circle cx="279.5" cy="206.9" r="1.25"/><circle cx="280" cy="205.7" r="1.25"/><circle cx="286.1" cy="206.5" r="1.25"/><circle cx="284.9" cy="206.5" r="1.25"/><circle cx="280.4" cy="206.4" r="1.25"/><circle cx="277.2" cy="206.3" r="1.25"/><circle cx="283" cy="205.6" r="1.25"/><circle cx="283.5" cy="206" r="1.25"/><circle cx="285.7" cy="216" r="1.25"/><circle cx="278.4" cy="216" r="1.25"/><circle cx="278.6" cy="215.8" r="1.25"/><circle cx="285.6" cy="216.4" r="1.25"/><circle cx="281.9" cy="219.4" r="1.25"/><circle cx="277.8" cy="219.1" r="1.25"/><circle cx="284.8" cy="219.4" r="1.25"/><circle cx="276.6" cy="221.9" r="1.25"/><circle cx="277.9" cy="221.7" r="1.25"/><circle cx="282.6" cy="221.8" r="1.25"/><circle cx="278.6" cy="232.7" r="1.25"/><circle cx="279.5" cy="232.5" r="1.25"/><circle cx="285.9" cy="236.7" r="1.25"/><circle cx="284" cy="236" r="1.25"/><circle cx="280.6" cy="242.9" r="1.25"/><circle cx="285.6" cy="242.8" r="1.25"/><circle cx="277.9" cy="245.1" r="1.25"/><circle cx="276.8" cy="245.5" r="1.25"/><circle cx="276.7" cy="256.2" r="1.25"/><circle cx="278.7" cy="255.5" r="1.25"/><circle cx="282.7" cy="260.8" r="1.25"/><circle cx="277.6" cy="260.7" r="1.25"/><circle cx="283.2" cy="89.1" r="1.25"/></g>
<line x1="222.2" y1="64.6" x2="283.7" y2="64.6" stroke="#2a2a2a" stroke-width="1.1"/>
<text x="254.1" y="59.8" font-size="12.6" letter-spacing="0.2" text-anchor="middle" fill="#111">n.s.</text>
<text x="223.5" y="299.3" font-size="9.4" text-anchor="middle" fill="#4d4d4d">Female</text>
<text x="281.7" y="299.3" font-size="9.4" text-anchor="middle" fill="#4d4d4d">Male</text>
<text x="256.5" y="312.6" font-size="12" text-anchor="middle" fill="#000">Sex</text>
<text transform="translate(196.8 52.5) scale(0.955 1)" font-size="19.6" fill="#000" stroke="#000" stroke-width="0.3">B</text>
</g>
<g>
<line x1="373" y1="99.7" x2="508.8" y2="99.7" stroke="#f1f1f1" stroke-width="0.6"/>
<line x1="373" y1="170.8" x2="508.8" y2="170.8" stroke="#f1f1f1" stroke-width="0.6"/>
<line x1="373" y1="241.9" x2="508.8" y2="241.9" stroke="#f1f1f1" stroke-width="0.6"/>
<line x1="373" y1="64.1" x2="508.8" y2="64.1" stroke="#e8e8e8" stroke-width="0.85"/>
<line x1="373" y1="135.2" x2="508.8" y2="135.2" stroke="#e8e8e8" stroke-width="0.85"/>
<line x1="373" y1="206.3" x2="508.8" y2="206.3" stroke="#e8e8e8" stroke-width="0.85"/>
<line x1="373" y1="277.4" x2="508.8" y2="277.4" stroke="#e8e8e8" stroke-width="0.85"/>
<line x1="407.4" y1="53" x2="407.4" y2="288.2" stroke="#e8e8e8" stroke-width="0.85"/>
<line x1="465.5" y1="53" x2="465.5" y2="288.2" stroke="#e8e8e8" stroke-width="0.85"/>
<text x="368.2" y="67.3" font-size="9" text-anchor="end" fill="#4d4d4d">2</text>
<text x="368.2" y="138.4" font-size="9" text-anchor="end" fill="#4d4d4d">1</text>
<text x="368.2" y="209.5" font-size="9" text-anchor="end" fill="#4d4d4d">0</text>
<text x="368.2" y="280.6" font-size="9" text-anchor="end" fill="#4d4d4d">−1</text>
<text transform="translate(350.2 171) rotate(-90)" font-size="12.5" text-anchor="middle" fill="#000" stroke="#000" stroke-width="0.3" y="3.3">c</text>
<path d="M420.9 129L424.9 129L425.5 130.5L426.2 132L427.2 133.5L428.3 135L429.1 136.5L429.9 138L430.6 139.5L431.4 141L432.2 142.5L433 144L433.7 145.5L434.4 147L435 148.5L435.6 150L436.1 151.5L436.5 153L436.9 154.5L437.2 156L437.5 157.5L437.7 159L438 160.5L438.2 162L438.5 163.5L438.8 165L439.3 166.5L439.9 168L440.7 169.5L441.4 171L442.3 172.5L443.2 174L444 175.5L444.9 177L445.7 178.5L446.1 180L446.1 181.5L446.1 183L446 184.5L445.9 186L445.3 187.5L444.7 189L444.3 190.5L443.8 192L443.4 193.5L443.2 195L443.3 196.5L443.4 198L443.5 199.5L443.5 201L443.5 202.5L443.5 204L443.5 205.5L443.3 207L442.7 208.5L441.9 210L441 211.5L439.9 213L438.8 214.5L437.6 216L436.4 217.5L435.2 219L434 220.5L432.9 222L431.8 223.5L430.9 225L430.1 226.5L429.4 228L428.8 229.5L428.3 231L427.9 232.5L427.6 234L427.3 235.5L427 237L426.8 238.5L426.5 240L426.1 241.5L425.5 243L425 244.5L424.5 246L423.9 247.5L423.5 249L423.1 250.5L422.7 252L422.4 253.5L422.2 255L422 256.5L421.8 258L421.7 259.5L421.6 260.6L420.9 260.6 Z" fill="#BCBDDC" fill-opacity="0.42"/>
<line x1="407.4" y1="129.5" x2="407.4" y2="261" stroke="#3c3c3c" stroke-width="1.15"/>
<rect x="401.6" y="166.5" width="11.6" height="40.6" fill="#BCBDDC" stroke="#333" stroke-width="0.8"/>
<line x1="401.6" y1="185" x2="413.2" y2="185" stroke="#2b2b2b" stroke-width="1"/>
<g fill="#BCBDDC" fill-opacity="0.25" stroke="#45426b" stroke-width="0.45"><circle cx="408" cy="129.6" r="1.25"/><circle cx="407.8" cy="129.5" r="1.25"/><circle cx="411.2" cy="138.8" r="1.25"/><circle cx="407.5" cy="138.5" r="1.25"/><circle cx="408.1" cy="138.7" r="1.25"/><circle cx="404.9" cy="142.8" r="1.25"/><circle cx="409.7" cy="142.2" r="1.25"/><circle cx="406.5" cy="142.2" r="1.25"/><circle cx="408.9" cy="146.9" r="1.25"/><circle cx="407.6" cy="148" r="1.25"/><circle cx="407.1" cy="147" r="1.25"/><circle cx="405.2" cy="147.2" r="1.25"/><circle cx="409.4" cy="152.1" r="1.25"/><circle cx="411.9" cy="152.5" r="1.25"/><circle cx="402.5" cy="151.9" r="1.25"/><circle cx="408.5" cy="152.1" r="1.25"/><circle cx="407.4" cy="152.5" r="1.25"/><circle cx="404.1" cy="157.1" r="1.25"/><circle cx="405.4" cy="156.2" r="1.25"/><circle cx="410.8" cy="156.9" r="1.25"/><circle cx="405.6" cy="156.2" r="1.25"/><circle cx="402.3" cy="156" r="1.25"/><circle cx="412.2" cy="155.8" r="1.25"/><circle cx="409" cy="160.7" r="1.25"/><circle cx="410.3" cy="160.9" r="1.25"/><circle cx="411.5" cy="161.1" r="1.25"/><circle cx="403.4" cy="160.8" r="1.25"/><circle cx="406.9" cy="160.8" r="1.25"/><circle cx="407.5" cy="160.5" r="1.25"/><circle cx="409.9" cy="166.6" r="1.25"/><circle cx="402.8" cy="167.1" r="1.25"/><circle cx="412.4" cy="166" r="1.25"/><circle cx="410.2" cy="167.2" r="1.25"/><circle cx="411.3" cy="166.1" r="1.25"/><circle cx="411.4" cy="166.4" r="1.25"/><circle cx="402.8" cy="172" r="1.25"/><circle cx="404.2" cy="172.1" r="1.25"/><circle cx="405.6" cy="171.8" r="1.25"/><circle cx="408.7" cy="171.9" r="1.25"/><circle cx="402.3" cy="172.5" r="1.25"/><circle cx="406" cy="172.3" r="1.25"/><circle cx="407.9" cy="172.2" r="1.25"/><circle cx="409" cy="177.4" r="1.25"/><circle cx="403.1" cy="177.6" r="1.25"/><circle cx="411.4" cy="176.9" r="1.25"/><circle cx="402.8" cy="176.9" r="1.25"/><circle cx="406.2" cy="176.9" r="1.25"/><circle cx="408.3" cy="176.9" r="1.25"/><circle cx="405.7" cy="176.9" r="1.25"/><circle cx="408.6" cy="177.1" r="1.25"/><circle cx="407.1" cy="179.6" r="1.25"/><circle cx="407.2" cy="180.5" r="1.25"/><circle cx="405.1" cy="180" r="1.25"/><circle cx="405.3" cy="180.7" r="1.25"/><circle cx="408.5" cy="180" r="1.25"/><circle cx="403.1" cy="180.2" r="1.25"/><circle cx="402.9" cy="179.7" r="1.25"/><circle cx="411.3" cy="179.7" r="1.25"/><circle cx="403.5" cy="180" r="1.25"/><circle cx="403.5" cy="184.5" r="1.25"/><circle cx="404.8" cy="184.9" r="1.25"/><circle cx="408.9" cy="185.1" r="1.25"/><circle cx="410.5" cy="184.8" r="1.25"/><circle cx="407.2" cy="184.5" r="1.25"/><circle cx="412.5" cy="185.1" r="1.25"/><circle cx="407.5" cy="184.7" r="1.25"/><circle cx="406.3" cy="185" r="1.25"/><circle cx="405.5" cy="190.6" r="1.25"/><circle cx="403.1" cy="190.3" r="1.25"/><circle cx="403.1" cy="190" r="1.25"/><circle cx="405.2" cy="190.7" r="1.25"/><circle cx="411.5" cy="190.4" r="1.25"/><circle cx="404.9" cy="190.7" r="1.25"/><circle cx="406.2" cy="190.1" r="1.25"/><circle cx="410.1" cy="190.4" r="1.25"/><circle cx="411.7" cy="196.5" r="1.25"/><circle cx="409.6" cy="196.2" r="1.25"/><circle cx="411" cy="196.7" r="1.25"/><circle cx="403.2" cy="196.8" r="1.25"/><circle cx="403.6" cy="196.3" r="1.25"/><circle cx="408" cy="206.4" r="1.25"/><circle cx="412.1" cy="206.2" r="1.25"/><circle cx="412.6" cy="206.1" r="1.25"/><circle cx="406" cy="206" r="1.25"/><circle cx="403.5" cy="206.6" r="1.25"/><circle cx="404.1" cy="206.3" r="1.25"/><circle cx="411.5" cy="206.1" r="1.25"/><circle cx="409.2" cy="206.2" r="1.25"/><circle cx="403.2" cy="206.8" r="1.25"/><circle cx="407.4" cy="205.9" r="1.25"/><circle cx="409" cy="205.9" r="1.25"/><circle cx="402.7" cy="206.7" r="1.25"/><circle cx="411.5" cy="205.8" r="1.25"/><circle cx="407.7" cy="206.7" r="1.25"/><circle cx="404" cy="216.2" r="1.25"/><circle cx="407.9" cy="216.4" r="1.25"/><circle cx="411.9" cy="216.6" r="1.25"/><circle cx="405.8" cy="216.7" r="1.25"/><circle cx="409.6" cy="215.8" r="1.25"/><circle cx="402.4" cy="216.3" r="1.25"/><circle cx="407" cy="219" r="1.25"/><circle cx="408.6" cy="219.5" r="1.25"/><circle cx="409.3" cy="219.2" r="1.25"/><circle cx="409.6" cy="219.4" r="1.25"/><circle cx="406.5" cy="218.4" r="1.25"/><circle cx="405.1" cy="221.6" r="1.25"/><circle cx="403.7" cy="222.3" r="1.25"/><circle cx="405.2" cy="221.6" r="1.25"/><circle cx="411" cy="221.8" r="1.25"/><circle cx="411.6" cy="232.7" r="1.25"/><circle cx="408" cy="232.8" r="1.25"/><circle cx="409" cy="232.3" r="1.25"/><circle cx="412.2" cy="236" r="1.25"/><circle cx="410.5" cy="236.1" r="1.25"/><circle cx="405.6" cy="243.3" r="1.25"/><circle cx="404.9" cy="242.9" r="1.25"/><circle cx="404.3" cy="246.1" r="1.25"/><circle cx="410.4" cy="245.6" r="1.25"/><circle cx="405.5" cy="256.2" r="1.25"/><circle cx="403.1" cy="256.2" r="1.25"/><circle cx="408.6" cy="261.1" r="1.25"/><circle cx="404.5" cy="260.7" r="1.25"/></g>
<path d="M478.2 89L478.8 89L478.8 90.5L478.9 92L478.9 93.5L479 95L479.1 96.5L479.2 98L479.3 99.5L479.5 101L479.8 102.5L480.1 104L480.4 105.5L480.8 107L481.2 108.5L481.7 110L482.2 111.5L482.7 113L483.2 114.5L483.8 116L484.3 117.5L484.8 119L485.4 120.5L485.9 122L486.4 123.5L486.9 125L487.5 126.5L488 128L488.7 129.5L489.4 131L490.2 132.5L491 134L491.9 135.5L492.8 137L493.8 138.5L494.8 140L495.9 141.5L496.9 143L498 144.5L498.9 146L499.7 147.5L500.5 149L501.2 150.5L502 152L502.6 153.5L503.1 155L503.4 156.5L503.7 158L503.9 159.5L504 161L504 162.5L504.1 164L504.1 165.5L504.1 167L504.1 168.5L504.1 170L504 171.5L503.9 173L503.7 174.5L503.4 176L503 177.5L502.6 179L502.2 180.5L501.7 182L501.3 183.5L500.8 185L500.3 186.5L499.7 188L499.1 189.5L498.4 191L497.5 192.5L496.6 194L495.9 195.5L495.2 197L494.6 198.5L494 200L493.5 201.5L493.1 203L492.7 204.5L492.2 206L491.6 207.5L491 209L490.3 210.5L489.5 212L488.6 213.5L487.8 215L487 216.5L486.2 218L485.4 219.5L484.7 221L484.1 222.5L483.5 224L482.9 225.5L482.4 227L481.8 228.5L481.4 230L481.1 231.5L480.7 233L480.5 234.5L480.2 236L480 237.5L479.8 239L479.7 240.5L479.5 242L479.4 243.5L479.3 245L479.3 245.4L478.2 245.4 Z" fill="#6A51A3" fill-opacity="0.42"/>
<line x1="465.5" y1="116" x2="465.5" y2="236.5" stroke="#3c3c3c" stroke-width="1.15"/>
<rect x="459.7" y="155.8" width="11.6" height="35.6" fill="#6A51A3" stroke="#333" stroke-width="0.8"/>
<line x1="459.7" y1="172.2" x2="471.3" y2="172.2" stroke="#2b2b2b" stroke-width="1"/>
<g fill="#6A51A3" fill-opacity="0.35" stroke="#2c2950" stroke-width="0.45"><circle cx="468.1" cy="115.7" r="1.25"/><circle cx="461.2" cy="116.2" r="1.25"/><circle cx="469.9" cy="117.4" r="1.25"/><circle cx="460.9" cy="117.5" r="1.25"/><circle cx="467.6" cy="129.5" r="1.25"/><circle cx="463.6" cy="129" r="1.25"/><circle cx="465.8" cy="129.2" r="1.25"/><circle cx="467.4" cy="138.7" r="1.25"/><circle cx="467.3" cy="138.3" r="1.25"/><circle cx="466.6" cy="138.6" r="1.25"/><circle cx="466.2" cy="138.8" r="1.25"/><circle cx="465.5" cy="138.5" r="1.25"/><circle cx="461.1" cy="142.4" r="1.25"/><circle cx="469.6" cy="141.9" r="1.25"/><circle cx="461.4" cy="142.9" r="1.25"/><circle cx="461.6" cy="142.2" r="1.25"/><circle cx="464.1" cy="148.1" r="1.25"/><circle cx="461.5" cy="147.7" r="1.25"/><circle cx="463.2" cy="147" r="1.25"/><circle cx="470.6" cy="146.9" r="1.25"/><circle cx="468.5" cy="147.4" r="1.25"/><circle cx="466.3" cy="147.4" r="1.25"/><circle cx="463.3" cy="147.1" r="1.25"/><circle cx="461.7" cy="152.1" r="1.25"/><circle cx="468.8" cy="151.9" r="1.25"/><circle cx="466.7" cy="151.7" r="1.25"/><circle cx="470.5" cy="151.8" r="1.25"/><circle cx="467" cy="152.4" r="1.25"/><circle cx="464.2" cy="151.8" r="1.25"/><circle cx="469.9" cy="152.5" r="1.25"/><circle cx="464.4" cy="152.2" r="1.25"/><circle cx="464.9" cy="156.2" r="1.25"/><circle cx="462.7" cy="156.6" r="1.25"/><circle cx="467.3" cy="156.1" r="1.25"/><circle cx="462.3" cy="156.7" r="1.25"/><circle cx="468" cy="156.3" r="1.25"/><circle cx="461.2" cy="156.7" r="1.25"/><circle cx="462.7" cy="156.4" r="1.25"/><circle cx="468.8" cy="156.4" r="1.25"/><circle cx="469" cy="156.4" r="1.25"/><circle cx="468.9" cy="160.1" r="1.25"/><circle cx="468.1" cy="160.5" r="1.25"/><circle cx="468.9" cy="161.2" r="1.25"/><circle cx="467.3" cy="160.8" r="1.25"/><circle cx="463.8" cy="161" r="1.25"/><circle cx="461.9" cy="160" r="1.25"/><circle cx="464.1" cy="161" r="1.25"/><circle cx="469.2" cy="160.5" r="1.25"/><circle cx="470.5" cy="167" r="1.25"/><circle cx="465.6" cy="166.1" r="1.25"/><circle cx="464.4" cy="165.8" r="1.25"/><circle cx="461.2" cy="166.5" r="1.25"/><circle cx="469.3" cy="166.4" r="1.25"/><circle cx="468.6" cy="167.1" r="1.25"/><circle cx="464" cy="166.5" r="1.25"/><circle cx="462.3" cy="166.3" r="1.25"/><circle cx="463.5" cy="166.8" r="1.25"/><circle cx="462.7" cy="171.8" r="1.25"/><circle cx="461.7" cy="172.7" r="1.25"/><circle cx="469.2" cy="172.2" r="1.25"/><circle cx="464.7" cy="171.8" r="1.25"/><circle cx="461.4" cy="172.6" r="1.25"/><circle cx="463.9" cy="172.3" r="1.25"/><circle cx="469.9" cy="172.4" r="1.25"/><circle cx="461.8" cy="172.4" r="1.25"/><circle cx="462" cy="172.3" r="1.25"/><circle cx="463.8" cy="177" r="1.25"/><circle cx="461.4" cy="177" r="1.25"/><circle cx="465.1" cy="177.1" r="1.25"/><circle cx="467.7" cy="177.2" r="1.25"/><circle cx="468.4" cy="176.7" r="1.25"/><circle cx="465.9" cy="176.9" r="1.25"/><circle cx="467.3" cy="177.7" r="1.25"/><circle cx="468.6" cy="177" r="1.25"/><circle cx="465.4" cy="176.7" r="1.25"/><circle cx="462.3" cy="179.2" r="1.25"/><circle cx="470.3" cy="180.5" r="1.25"/><circle cx="469.2" cy="180" r="1.25"/><circle cx="463.6" cy="180" r="1.25"/><circle cx="464.9" cy="179.8" r="1.25"/><circle cx="464.7" cy="180.1" r="1.25"/><circle cx="461.1" cy="180" r="1.25"/><circle cx="465.3" cy="179.8" r="1.25"/><circle cx="467.8" cy="184.6" r="1.25"/><circle cx="462.2" cy="184.7" r="1.25"/><circle cx="463.2" cy="185" r="1.25"/><circle cx="470.6" cy="184.9" r="1.25"/><circle cx="460.6" cy="184.8" r="1.25"/><circle cx="468.7" cy="185.2" r="1.25"/><circle cx="466.5" cy="184.7" r="1.25"/><circle cx="464" cy="184.9" r="1.25"/><circle cx="463.8" cy="190.9" r="1.25"/><circle cx="460.3" cy="190.6" r="1.25"/><circle cx="469.2" cy="190.4" r="1.25"/><circle cx="464.1" cy="190.5" r="1.25"/><circle cx="467.2" cy="190.9" r="1.25"/><circle cx="464.5" cy="190.6" r="1.25"/><circle cx="467.5" cy="191.2" r="1.25"/><circle cx="470.3" cy="196.6" r="1.25"/><circle cx="467.8" cy="196.3" r="1.25"/><circle cx="461.1" cy="197.2" r="1.25"/><circle cx="462.3" cy="206.8" r="1.25"/><circle cx="464.6" cy="206.5" r="1.25"/><circle cx="464.1" cy="206.1" r="1.25"/><circle cx="460.5" cy="206" r="1.25"/><circle cx="468.7" cy="206.1" r="1.25"/><circle cx="464.9" cy="206.3" r="1.25"/><circle cx="465.9" cy="205.9" r="1.25"/><circle cx="469.2" cy="206.7" r="1.25"/><circle cx="460.6" cy="216.2" r="1.25"/><circle cx="463.4" cy="216.4" r="1.25"/><circle cx="469.2" cy="216.5" r="1.25"/><circle cx="465.4" cy="219.4" r="1.25"/><circle cx="465.1" cy="219.1" r="1.25"/><circle cx="465.3" cy="218.7" r="1.25"/><circle cx="468.9" cy="221.9" r="1.25"/><circle cx="462" cy="222" r="1.25"/><circle cx="470.2" cy="232.3" r="1.25"/><circle cx="470.4" cy="232.2" r="1.25"/><circle cx="463.1" cy="235.4" r="1.25"/><circle cx="460.3" cy="235.8" r="1.25"/><circle cx="467.3" cy="89.1" r="1.25"/><circle cx="463.3" cy="245.4" r="1.25"/></g>
<line x1="405" y1="64.5" x2="466.6" y2="64.5" stroke="#2a2a2a" stroke-width="1.1"/>
<text x="434.7" y="62.6" font-size="15.5" text-anchor="middle" fill="#111">***</text>
<text x="407.4" y="299.3" font-size="9.4" text-anchor="middle" fill="#4d4d4d">OA</text>
<text x="465.5" y="299.3" font-size="9.4" text-anchor="middle" fill="#4d4d4d">YA</text>
<text x="440.9" y="312.6" font-size="12" text-anchor="middle" fill="#000">Age</text>
<text transform="translate(375.2 49.6) scale(0.955 1)" font-size="19.6" fill="#000" stroke="#000" stroke-width="0.3">C</text>
</g>
<g>
<line x1="542.5" y1="99.7" x2="673.8" y2="99.7" stroke="#f1f1f1" stroke-width="0.6"/>
<line x1="542.5" y1="170.8" x2="673.8" y2="170.8" stroke="#f1f1f1" stroke-width="0.6"/>
<line x1="542.5" y1="241.9" x2="673.8" y2="241.9" stroke="#f1f1f1" stroke-width="0.6"/>
<line x1="542.5" y1="64.1" x2="673.8" y2="64.1" stroke="#e8e8e8" stroke-width="0.85"/>
<line x1="542.5" y1="135.2" x2="673.8" y2="135.2" stroke="#e8e8e8" stroke-width="0.85"/>
<line x1="542.5" y1="206.3" x2="673.8" y2="206.3" stroke="#e8e8e8" stroke-width="0.85"/>
<line x1="542.5" y1="277.4" x2="673.8" y2="277.4" stroke="#e8e8e8" stroke-width="0.85"/>
<line x1="572.5" y1="53" x2="572.5" y2="288.2" stroke="#e8e8e8" stroke-width="0.85"/>
<line x1="630.5" y1="53" x2="630.5" y2="288.2" stroke="#e8e8e8" stroke-width="0.85"/>
<path d="M585.7 88.8L586 88.8L586 90.3L586 91.8L586.1 93.3L586.1 94.8L586.1 96.3L586.2 97.8L586.3 99.3L586.4 100.8L586.6 102.3L586.9 103.8L587.2 105.3L587.5 106.8L588 108.3L588.4 109.8L588.9 111.3L589.3 112.8L589.8 114.3L590.4 115.8L591.1 117.3L591.8 118.8L592.5 120.3L593.3 121.8L594.1 123.3L594.9 124.8L595.7 126.3L596.5 127.8L597.3 129.3L598.1 130.8L598.9 132.3L599.6 133.8L600.3 135.3L601 136.8L601.7 138.3L602.3 139.8L602.9 141.3L603.4 142.8L603.9 144.3L604.4 145.8L605 147.3L605.5 148.8L606 150.3L606.3 151.8L606.7 153.3L606.8 154.8L606.8 156.3L606.6 157.8L606.5 159.3L606.3 160.8L605.9 162.3L605.4 163.8L605.2 165.3L604.9 166.8L604.8 168.3L604.7 169.8L604.8 171.3L605.2 172.8L605.7 174.3L606.1 175.8L606.6 177.3L607.1 178.8L607.2 180.3L606.7 181.8L605.8 183.3L604 184.8L602.9 186.3L602.2 187.8L601.5 189.3L600.9 190.8L600.3 192.3L599.7 193.8L599.3 195.3L599 196.8L598.8 198.3L598.5 199.8L598.3 201.3L598.2 202.8L598 204.3L597.7 205.8L597.4 207.3L596.8 208.8L596.3 210.3L595.8 211.8L595.3 213.3L594.8 214.8L594.3 216.3L593.9 217.8L593.5 219.3L593 220.8L592.5 222.3L591.9 223.8L591.4 225.3L590.9 226.8L590.3 228.3L589.9 229.8L589.4 231.3L589.1 232.8L588.7 234.3L588.5 235.8L588.2 237.3L588 238.8L587.8 240.3L587.5 241.8L587.3 243.3L587.1 244.8L587 246.3L586.8 247.8L586.7 249.3L586.5 250.8L586.5 252.3L586.4 253.8L586.3 255.3L586.2 256.8L586.1 258.3L586 259.8L586 260.6L585.7 260.6 Z" fill="#BCBDDC" fill-opacity="0.42"/>
<line x1="572.5" y1="89" x2="572.5" y2="242.9" stroke="#3c3c3c" stroke-width="1.15"/>
<rect x="566.7" y="147.3" width="11.6" height="44.9" fill="#BCBDDC" stroke="#333" stroke-width="0.8"/>
<line x1="566.7" y1="168.6" x2="578.3" y2="168.6" stroke="#2b2b2b" stroke-width="1"/>
<g fill="#BCBDDC" fill-opacity="0.25" stroke="#45426b" stroke-width="0.45"><circle cx="568.1" cy="88.6" r="1.25"/><circle cx="574.8" cy="116" r="1.25"/><circle cx="569.7" cy="116.1" r="1.25"/><circle cx="573.8" cy="117.8" r="1.25"/><circle cx="569.6" cy="117.4" r="1.25"/><circle cx="572.6" cy="129.3" r="1.25"/><circle cx="569.5" cy="129.5" r="1.25"/><circle cx="567.9" cy="129.4" r="1.25"/><circle cx="572" cy="129.7" r="1.25"/><circle cx="570.8" cy="138.8" r="1.25"/><circle cx="573.7" cy="138.4" r="1.25"/><circle cx="569.4" cy="138.6" r="1.25"/><circle cx="572.6" cy="139.1" r="1.25"/><circle cx="574.7" cy="138.8" r="1.25"/><circle cx="575.7" cy="142.2" r="1.25"/><circle cx="574.8" cy="142.4" r="1.25"/><circle cx="574.6" cy="142.3" r="1.25"/><circle cx="570" cy="141.7" r="1.25"/><circle cx="567.5" cy="147.2" r="1.25"/><circle cx="575.1" cy="147.2" r="1.25"/><circle cx="568.6" cy="147.3" r="1.25"/><circle cx="576" cy="147.5" r="1.25"/><circle cx="569.3" cy="147.2" r="1.25"/><circle cx="572.1" cy="147.1" r="1.25"/><circle cx="570.9" cy="152.1" r="1.25"/><circle cx="572.8" cy="152.3" r="1.25"/><circle cx="569.9" cy="151.6" r="1.25"/><circle cx="574.9" cy="152" r="1.25"/><circle cx="568" cy="152" r="1.25"/><circle cx="573.3" cy="152.4" r="1.25"/><circle cx="571.8" cy="152.3" r="1.25"/><circle cx="569.9" cy="156.6" r="1.25"/><circle cx="571.1" cy="156.6" r="1.25"/><circle cx="571.8" cy="156.5" r="1.25"/><circle cx="569.4" cy="156.6" r="1.25"/><circle cx="577.5" cy="156.3" r="1.25"/><circle cx="572.9" cy="156.9" r="1.25"/><circle cx="567.9" cy="156.6" r="1.25"/><circle cx="569.2" cy="160.6" r="1.25"/><circle cx="571.2" cy="160.7" r="1.25"/><circle cx="574.2" cy="160.6" r="1.25"/><circle cx="575.2" cy="161" r="1.25"/><circle cx="567.5" cy="161.4" r="1.25"/><circle cx="572.7" cy="161.2" r="1.25"/><circle cx="571.3" cy="161" r="1.25"/><circle cx="567.5" cy="166.5" r="1.25"/><circle cx="570.3" cy="165.8" r="1.25"/><circle cx="569.7" cy="166.4" r="1.25"/><circle cx="571.6" cy="166.4" r="1.25"/><circle cx="568.9" cy="166.6" r="1.25"/><circle cx="569.3" cy="166.2" r="1.25"/><circle cx="569" cy="166.5" r="1.25"/><circle cx="574.9" cy="171.9" r="1.25"/><circle cx="570" cy="172.5" r="1.25"/><circle cx="573.4" cy="172.6" r="1.25"/><circle cx="572.3" cy="172" r="1.25"/><circle cx="572.1" cy="171.7" r="1.25"/><circle cx="572.4" cy="171.8" r="1.25"/><circle cx="569" cy="177" r="1.25"/><circle cx="570.1" cy="176.5" r="1.25"/><circle cx="575.4" cy="176.7" r="1.25"/><circle cx="569.4" cy="177" r="1.25"/><circle cx="570.6" cy="176.7" r="1.25"/><circle cx="571.2" cy="177.1" r="1.25"/><circle cx="574.3" cy="177.3" r="1.25"/><circle cx="571.8" cy="179.7" r="1.25"/><circle cx="571.6" cy="179.4" r="1.25"/><circle cx="577.2" cy="179.8" r="1.25"/><circle cx="569.4" cy="180.1" r="1.25"/><circle cx="573.4" cy="180.1" r="1.25"/><circle cx="577" cy="180" r="1.25"/><circle cx="573.5" cy="180.4" r="1.25"/><circle cx="576.6" cy="180.4" r="1.25"/><circle cx="576.5" cy="184.7" r="1.25"/><circle cx="576.7" cy="185.2" r="1.25"/><circle cx="569.7" cy="185.2" r="1.25"/><circle cx="572" cy="185.1" r="1.25"/><circle cx="577.3" cy="184.9" r="1.25"/><circle cx="570.7" cy="184.7" r="1.25"/><circle cx="572.5" cy="190.9" r="1.25"/><circle cx="576.7" cy="190.9" r="1.25"/><circle cx="571.1" cy="190.9" r="1.25"/><circle cx="575.6" cy="190.9" r="1.25"/><circle cx="576.1" cy="190.5" r="1.25"/><circle cx="571" cy="196.1" r="1.25"/><circle cx="577.1" cy="196" r="1.25"/><circle cx="568.2" cy="196.9" r="1.25"/><circle cx="569.7" cy="206.7" r="1.25"/><circle cx="570.5" cy="206.5" r="1.25"/><circle cx="570.9" cy="206" r="1.25"/><circle cx="567.7" cy="205.9" r="1.25"/><circle cx="577.6" cy="206.6" r="1.25"/><circle cx="572.1" cy="207" r="1.25"/><circle cx="567.4" cy="206.1" r="1.25"/><circle cx="568.3" cy="216.4" r="1.25"/><circle cx="576" cy="216.4" r="1.25"/><circle cx="573.5" cy="216.1" r="1.25"/><circle cx="570.5" cy="219.1" r="1.25"/><circle cx="569.8" cy="219" r="1.25"/><circle cx="569.1" cy="219.2" r="1.25"/><circle cx="571" cy="222.2" r="1.25"/><circle cx="572.4" cy="222.1" r="1.25"/><circle cx="570.9" cy="222.1" r="1.25"/><circle cx="573.3" cy="232.3" r="1.25"/><circle cx="570.4" cy="232.3" r="1.25"/><circle cx="574.9" cy="235.9" r="1.25"/><circle cx="576" cy="235.7" r="1.25"/><circle cx="577.5" cy="242.8" r="1.25"/><circle cx="572.7" cy="242.2" r="1.25"/><circle cx="574.4" cy="261.2" r="1.25"/></g>
<path d="M643.2 138.8L647.6 138.8L648.3 140.3L649.2 141.8L650.3 143.3L651.7 144.8L653 146.3L654.2 147.8L655.4 149.3L656.7 150.8L658 152.3L659.3 153.8L660.4 155.3L661.5 156.8L662.5 158.3L663.2 159.8L663.8 161.3L664.2 162.8L664.5 164.3L664.9 165.8L665.1 167.3L665.4 168.8L665.7 170.3L666.1 171.8L666.6 173.3L667.1 174.8L667.6 176.3L668.2 177.8L668.6 179.3L669 180.8L669.2 182.3L669.4 183.8L669.5 185.3L669.4 186.8L669.3 188.3L669 189.8L668.4 191.3L667.3 192.8L666.2 194.3L665.1 195.8L664.7 197.3L664.9 198.8L665.2 200.3L666.3 201.8L667 203.3L667.2 204.8L667.2 206.3L666.3 207.8L664.8 209.3L663.5 210.8L662.3 212.3L661 213.8L659.6 215.3L658.3 216.8L657 218.3L655.7 219.8L654.4 221.3L653.2 222.8L652 224.3L651.2 225.8L650.4 227.3L649.7 228.8L649.2 230.3L648.7 231.8L648.3 233.3L647.9 234.8L647.6 236.3L647.3 237.8L647 239.3L646.7 240.8L646.4 242.3L646 243.8L645.7 245.3L645.5 246.8L645.3 248.3L645 249.8L644.8 251.3L644.5 252.8L644.3 254.3L644 255.8L644 255.9L643.2 255.9 Z" fill="#6A51A3" fill-opacity="0.42"/>
<line x1="630.5" y1="138.8" x2="630.5" y2="256.1" stroke="#3c3c3c" stroke-width="1.15"/>
<rect x="624.7" y="169.3" width="11.6" height="37.8" fill="#6A51A3" stroke="#333" stroke-width="0.8"/>
<line x1="624.7" y1="177.9" x2="636.3" y2="177.9" stroke="#2b2b2b" stroke-width="1"/>
<g fill="#6A51A3" fill-opacity="0.35" stroke="#2c2950" stroke-width="0.45"><circle cx="629.9" cy="138.4" r="1.25"/><circle cx="625.5" cy="141.8" r="1.25"/><circle cx="627.9" cy="142.1" r="1.25"/><circle cx="634.6" cy="147.7" r="1.25"/><circle cx="628.8" cy="147.6" r="1.25"/><circle cx="634" cy="147.6" r="1.25"/><circle cx="633.7" cy="147.2" r="1.25"/><circle cx="634.6" cy="152.3" r="1.25"/><circle cx="633.1" cy="152.2" r="1.25"/><circle cx="628.7" cy="152.4" r="1.25"/><circle cx="631.6" cy="152.5" r="1.25"/><circle cx="626.5" cy="152.6" r="1.25"/><circle cx="625.7" cy="156.3" r="1.25"/><circle cx="630.8" cy="156.5" r="1.25"/><circle cx="633.8" cy="156.7" r="1.25"/><circle cx="632.7" cy="156.4" r="1.25"/><circle cx="630.9" cy="156.4" r="1.25"/><circle cx="633.9" cy="156.2" r="1.25"/><circle cx="634.8" cy="156.5" r="1.25"/><circle cx="634.4" cy="160.4" r="1.25"/><circle cx="629.6" cy="160.5" r="1.25"/><circle cx="625.4" cy="161.1" r="1.25"/><circle cx="628.7" cy="161.3" r="1.25"/><circle cx="633.3" cy="160.5" r="1.25"/><circle cx="631.2" cy="160.9" r="1.25"/><circle cx="629" cy="160.8" r="1.25"/><circle cx="631.5" cy="166.7" r="1.25"/><circle cx="631.1" cy="166.6" r="1.25"/><circle cx="628.1" cy="166.6" r="1.25"/><circle cx="632.4" cy="166.3" r="1.25"/><circle cx="635.3" cy="166.5" r="1.25"/><circle cx="633.8" cy="166.5" r="1.25"/><circle cx="634.8" cy="167.1" r="1.25"/><circle cx="633" cy="172" r="1.25"/><circle cx="632" cy="172.8" r="1.25"/><circle cx="629.3" cy="172.5" r="1.25"/><circle cx="631.1" cy="172.3" r="1.25"/><circle cx="633.9" cy="172.7" r="1.25"/><circle cx="634.9" cy="172.4" r="1.25"/><circle cx="633.3" cy="171.9" r="1.25"/><circle cx="633.1" cy="172.1" r="1.25"/><circle cx="633.9" cy="177.3" r="1.25"/><circle cx="628.3" cy="176.7" r="1.25"/><circle cx="634.2" cy="177.2" r="1.25"/><circle cx="633.9" cy="177.6" r="1.25"/><circle cx="628.5" cy="177.4" r="1.25"/><circle cx="632.1" cy="177.1" r="1.25"/><circle cx="634.4" cy="177.1" r="1.25"/><circle cx="633.1" cy="177.2" r="1.25"/><circle cx="633.4" cy="180.1" r="1.25"/><circle cx="630.3" cy="179.8" r="1.25"/><circle cx="626.6" cy="179.8" r="1.25"/><circle cx="633.2" cy="179.8" r="1.25"/><circle cx="631.4" cy="180.4" r="1.25"/><circle cx="626.8" cy="180" r="1.25"/><circle cx="633" cy="180.1" r="1.25"/><circle cx="628" cy="180.1" r="1.25"/><circle cx="634.3" cy="185" r="1.25"/><circle cx="629.1" cy="184.7" r="1.25"/><circle cx="627.1" cy="184.7" r="1.25"/><circle cx="627.7" cy="184.9" r="1.25"/><circle cx="629.3" cy="185.2" r="1.25"/><circle cx="630.2" cy="184.6" r="1.25"/><circle cx="632.1" cy="184.6" r="1.25"/><circle cx="634.5" cy="184.9" r="1.25"/><circle cx="634.6" cy="184.8" r="1.25"/><circle cx="628.3" cy="190.8" r="1.25"/><circle cx="635.5" cy="190.1" r="1.25"/><circle cx="630.6" cy="190.5" r="1.25"/><circle cx="628.5" cy="190.4" r="1.25"/><circle cx="625.5" cy="190.3" r="1.25"/><circle cx="627.1" cy="190.7" r="1.25"/><circle cx="635.1" cy="190.8" r="1.25"/><circle cx="628.4" cy="190.2" r="1.25"/><circle cx="632.6" cy="190.7" r="1.25"/><circle cx="627.6" cy="196.7" r="1.25"/><circle cx="626.6" cy="196.1" r="1.25"/><circle cx="627.7" cy="196.8" r="1.25"/><circle cx="635.1" cy="196" r="1.25"/><circle cx="630.7" cy="205.8" r="1.25"/><circle cx="631.8" cy="205.9" r="1.25"/><circle cx="626.3" cy="206.6" r="1.25"/><circle cx="633.4" cy="206.3" r="1.25"/><circle cx="633.6" cy="206.5" r="1.25"/><circle cx="634.7" cy="206.3" r="1.25"/><circle cx="634.9" cy="206.8" r="1.25"/><circle cx="631" cy="206" r="1.25"/><circle cx="631.8" cy="206.5" r="1.25"/><circle cx="626.9" cy="206.8" r="1.25"/><circle cx="629" cy="206.1" r="1.25"/><circle cx="626.7" cy="205.9" r="1.25"/><circle cx="628" cy="206.3" r="1.25"/><circle cx="626.6" cy="206.3" r="1.25"/><circle cx="635.7" cy="206.1" r="1.25"/><circle cx="627.5" cy="216" r="1.25"/><circle cx="629.5" cy="216.4" r="1.25"/><circle cx="625.7" cy="216" r="1.25"/><circle cx="635.6" cy="216.1" r="1.25"/><circle cx="629" cy="215.8" r="1.25"/><circle cx="628.7" cy="218.6" r="1.25"/><circle cx="625.3" cy="219.3" r="1.25"/><circle cx="632.2" cy="219.2" r="1.25"/><circle cx="626" cy="219.5" r="1.25"/><circle cx="628.6" cy="221.4" r="1.25"/><circle cx="627.5" cy="222.2" r="1.25"/><circle cx="626.5" cy="222" r="1.25"/><circle cx="626.2" cy="221.8" r="1.25"/><circle cx="630.5" cy="232.7" r="1.25"/><circle cx="632.9" cy="232.9" r="1.25"/><circle cx="632.6" cy="235.8" r="1.25"/><circle cx="628.1" cy="236" r="1.25"/><circle cx="626.4" cy="243" r="1.25"/><circle cx="633" cy="243.6" r="1.25"/><circle cx="627.5" cy="245.8" r="1.25"/><circle cx="631.3" cy="245.5" r="1.25"/><circle cx="634.8" cy="255.9" r="1.25"/><circle cx="628.9" cy="256.3" r="1.25"/></g>
<line x1="567.9" y1="64.5" x2="629.3" y2="64.5" stroke="#2a2a2a" stroke-width="1.1"/>
<text x="599" y="62.6" font-size="15.5" text-anchor="middle" fill="#111">**</text>
<text x="572.5" y="299.3" font-size="9.4" text-anchor="middle" fill="#4d4d4d">Female</text>
<text x="630.5" y="299.3" font-size="9.4" text-anchor="middle" fill="#4d4d4d">Male</text>
<text x="606" y="312.6" font-size="12" text-anchor="middle" fill="#000">Sex</text>
<text transform="translate(545.4 49.6) scale(0.955 1)" font-size="19.6" fill="#000" stroke="#000" stroke-width="0.3">D</text>
</g>
</svg>
</body>
</html>
